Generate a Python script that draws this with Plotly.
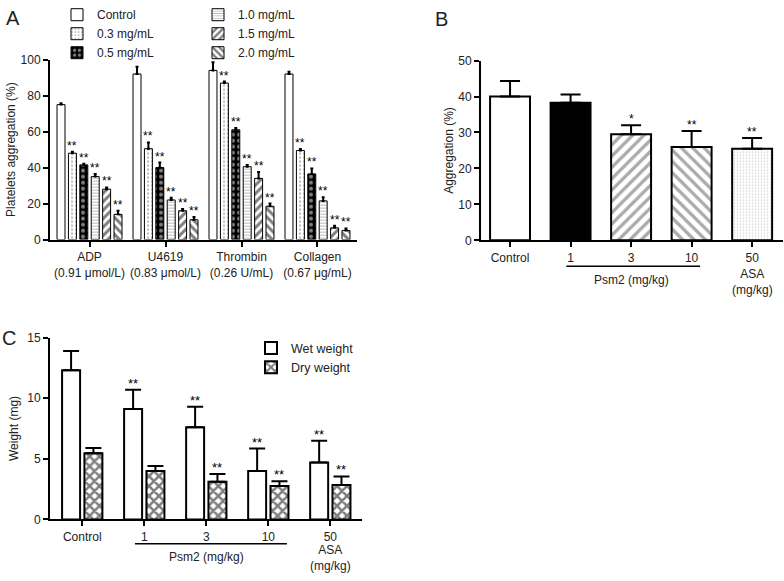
import plotly.graph_objects as go

W, H = 784, 581
FONT = "Liberation Sans, Arial, sans-serif"
TXT = "#222222"

# ---------------- Panel A data ----------------
A_groups = ["ADP<br>(0.91 μmol/L)", "U4619<br>(0.83 μmol/L)",
            "Thrombin<br>(0.26 U/mL)", "Collagen<br>(0.67 μg/mL)"]
A_series = ["Control", "0.3 mg/mL", "0.5 mg/mL", "1.0 mg/mL", "1.5 mg/mL", "2.0 mg/mL"]
A_control = [75, 92, 94, 92]
A_control_err = [0.8, 4, 4.5, 1.2]
A_03 = [48, 50.5, 87, 49.5]
A_03_err = [0.8, 3.5, 0.8, 0.8]
A_05 = [41.5, 40, 61, 36.5]
A_05_err = [0.6, 2.8, 1, 3]
A_10 = [35, 22, 40.5, 21.5]
A_10_err = [1.5, 1.2, 1, 2]
A_15 = [28, 16, 34, 6.5]
A_15_err = [1, 1, 3.5, 1.2]
A_20 = [14, 11, 18.5, 5]
A_20_err = [2, 1.5, 1.5, 1.2]
A_stars = ["", "**", "**", "**", "**", "**"]

# ---------------- Panel B data ----------------
B_labels = ["Control", "1", "3", "10", "50"]
B_values = [40, 38.3, 29.5, 26, 25.5]
B_err = [4.3, 2.3, 2.5, 4.4, 3]
B_stars = ["", "", "*", "**", "**"]

# ---------------- Panel C data ----------------
C_labels = ["Control", "1", "3", "10", "50"]
C_wet = [12.3, 9.1, 7.6, 4.0, 4.7]
C_wet_err = [1.6, 1.6, 1.7, 1.85, 1.8]
C_dry = [5.45, 4.0, 3.1, 2.75, 2.85]
C_dry_err = [0.45, 0.4, 0.65, 0.4, 0.7]
C_wet_stars = ["", "**", "**", "**", "**"]
C_dry_stars = ["", "", "**", "**", "**"]

fig = go.Figure()
annotations = []

# ---------- Panel A ----------
A_vals = [A_control, A_03, A_05, A_10, A_15, A_20]
A_errs = [A_control_err, A_03_err, A_05_err, A_10_err, A_15_err, A_20_err]
A_styles = [
    dict(color="white"),
    dict(color="white", pattern=dict(shape=".", fgcolor="#777", bgcolor="white", size=4, solidity=0.25)),
    dict(color="black", pattern=dict(shape=".", fgcolor="white", bgcolor="black", size=6, solidity=0.35)),
    dict(color="white", pattern=dict(shape="-", fgcolor="#777", bgcolor="white", size=3, solidity=0.35)),
    dict(color="white", pattern=dict(shape="/", fgcolor="black", bgcolor="white", size=6, solidity=0.5)),
    dict(color="white", pattern=dict(shape="\\", fgcolor="black", bgcolor="white", size=6, solidity=0.5)),
]
pitch, bw = 0.15, 0.105
for j, (name, vals, errs, st) in enumerate(zip(A_series, A_vals, A_errs, A_styles)):
    xs = [i + (j - 2.5) * pitch for i in range(len(A_groups))]
    fig.add_trace(go.Bar(
        x=xs, y=vals, width=bw, name=name,
        marker=dict(line=dict(color="black", width=1), **st),
        error_y=dict(type="data", array=errs, arrayminus=[0] * len(errs), symmetric=False,
                     color="black", thickness=2, width=1.5),
        xaxis="x", yaxis="y", legend="legend" if j < 3 else "legend2",
    ))
    if A_stars[j]:
        for x, v, e in zip(xs, vals, errs):
            annotations.append(dict(x=x, y=v + e, xref="x", yref="y", text=A_stars[j],
                                    showarrow=False, yanchor="bottom", yshift=-3,
                                    font=dict(size=12, color="black", family=FONT)))

# ---------- Panel B ----------
B_styles = [
    dict(color="white"),
    dict(color="black"),
    dict(color="white", pattern=dict(shape="/", fgcolor="#555", bgcolor="white", size=8, solidity=0.4)),
    dict(color="white", pattern=dict(shape="\\", fgcolor="#555", bgcolor="white", size=8, solidity=0.4)),
    dict(color="white", pattern=dict(shape=".", fgcolor="#999", bgcolor="white", size=3, solidity=0.2)),
]
for i, (lab, v, e, st) in enumerate(zip(B_labels, B_values, B_err, B_styles)):
    fig.add_trace(go.Bar(
        x=[i], y=[v], width=0.66, showlegend=False, name=lab,
        marker=dict(line=dict(color="black", width=2), **st),
        error_y=dict(type="data", array=[e], arrayminus=[0], symmetric=False,
                     color="black", thickness=2, width=10),
        xaxis="x2", yaxis="y2",
    ))
    if B_stars[i]:
        annotations.append(dict(x=i, y=v + e, xref="x2", yref="y2", text=B_stars[i],
                                showarrow=False, yanchor="bottom", yshift=-3,
                                font=dict(size=12, color="black", family=FONT)))

# ---------- Panel C ----------
off, cw = 0.18, 0.29
xs_w = [i - off for i in range(len(C_labels))]
xs_d = [i + off for i in range(len(C_labels))]
fig.add_trace(go.Bar(
    x=xs_w, y=C_wet, width=cw, name="Wet weight",
    marker=dict(color="white", line=dict(color="black", width=2)),
    error_y=dict(type="data", array=C_wet_err, arrayminus=[0] * 5, symmetric=False,
                 color="black", thickness=2, width=8),
    xaxis="x3", yaxis="y3", legend="legend3",
))
fig.add_trace(go.Bar(
    x=xs_d, y=C_dry, width=cw, name="Dry weight",
    marker=dict(color="white", line=dict(color="black", width=2),
                pattern=dict(shape="x", fgcolor="black", bgcolor="white", size=7, solidity=0.6)),
    error_y=dict(type="data", array=C_dry_err, arrayminus=[0] * 5, symmetric=False,
                 color="black", thickness=2, width=8),
    xaxis="x3", yaxis="y3", legend="legend3",
))
for xs, vals, errs, stars in [(xs_w, C_wet, C_wet_err, C_wet_stars), (xs_d, C_dry, C_dry_err, C_dry_stars)]:
    for x, v, e, s in zip(xs, vals, errs, stars):
        if s:
            annotations.append(dict(x=x, y=v + e, xref="x3", yref="y3", text=s,
                                    showarrow=False, yanchor="bottom", yshift=-3,
                                    font=dict(size=13, color="black", family=FONT)))

# ---------- extra labels ----------
def ann(x, y, text, xref="paper", yref="paper", size=12, **kw):
    d = dict(x=x, y=y, xref=xref, yref=yref, text=text, showarrow=False,
             font=dict(size=size, color=TXT, family=FONT))
    d.update(kw)
    annotations.append(d)

ann(4 / W, 1 - 10 / H, "A", size=20, xanchor="left", yanchor="middle")
ann(433 / W, 1 - 11 / H, "B", size=20, xanchor="left", yanchor="middle")
ann(0 / W, 1 - 339 / H, "C", size=20, xanchor="left", yanchor="middle")

ann(2, 1 - 279 / H, "Psm2 (mg/kg)", xref="x2", yanchor="middle")
ann(4, 1 - 281 / H, "ASA<br>(mg/kg)", xref="x2", yanchor="middle")
ann(2, 1 - 564 / H, "Psm2 (mg/kg)", xref="x3", yanchor="middle")
ann(4, 1 - 565 / H, "ASA<br>(mg/kg)", xref="x3", yanchor="middle")

shapes = [
    dict(type="line", xref="x2", yref="paper", x0=0.93, x1=3.14, y0=1 - 265 / H, y1=1 - 265 / H,
         line=dict(color="black", width=1.5)),
    dict(type="line", xref="x3", yref="paper", x0=0.85, x1=3.3, y0=1 - 550 / H, y1=1 - 550 / H,
         line=dict(color="black", width=1.5)),
]

axis_common = dict(showline=True, linecolor="black", linewidth=2, ticks="outside",
                   ticklen=5, tickwidth=1.5, tickcolor="black", showgrid=False,
                   zeroline=False, tickfont=dict(size=12, color=TXT, family=FONT))

fig.update_layout(
    width=W, height=H, margin=dict(l=0, r=0, t=0, b=0),
    paper_bgcolor="white", plot_bgcolor="white",
    font=dict(family=FONT, color=TXT),
    barmode="overlay",
    xaxis=dict(domain=[50 / W, 357 / W], range=[-0.52, 3.52], tickvals=list(range(4)),
               ticktext=A_groups, anchor="y", **axis_common),
    yaxis=dict(domain=[1 - 237.7 / H, 1 - 53 / H], range=[0, 100], dtick=20, anchor="x",
               title=dict(text="Platelets aggregation (%)", font=dict(size=12, color=TXT), standoff=2),
               **axis_common),
    xaxis2=dict(domain=[481 / W, 783 / W], range=[-0.48, 4.51], tickvals=list(range(5)),
                ticktext=B_labels, anchor="y2", **axis_common),
    yaxis2=dict(domain=[1 - 238.5 / H, 1 - 54 / H], range=[0, 50], dtick=10, anchor="x2",
                title=dict(text="Aggregation (%)", font=dict(size=12, color=TXT), standoff=2),
                **axis_common),
    xaxis3=dict(domain=[50 / W, 361.7 / W], range=[-0.52, 4.506], tickvals=list(range(5)),
                ticktext=C_labels, anchor="y3", **axis_common),
    yaxis3=dict(domain=[1 - 525 / H, 1 - 338.3 / H], range=[0, 15], dtick=5, anchor="x3",
                title=dict(text="Weight (mg)", font=dict(size=12, color=TXT), standoff=6),
                **axis_common),
    legend=dict(x=57 / W, y=1 + 8 / H, xanchor="left", yanchor="top", bgcolor="rgba(0,0,0,0)",
                font=dict(size=12, color=TXT), tracegroupgap=0),
    legend2=dict(x=198 / W, y=1 + 8 / H, xanchor="left", yanchor="top", bgcolor="rgba(0,0,0,0)",
                 font=dict(size=12, color=TXT), tracegroupgap=0),
    legend3=dict(x=251 / W, y=1 - 334 / H, xanchor="left", yanchor="top", bgcolor="rgba(0,0,0,0)",
                 font=dict(size=12.5, color=TXT), tracegroupgap=0),
    annotations=annotations,
    shapes=shapes,
)

fig.write_html("out.html", config={"displayModeBar": False},
               post_script="document.body.style.margin='0';document.body.style.overflow='hidden';")
